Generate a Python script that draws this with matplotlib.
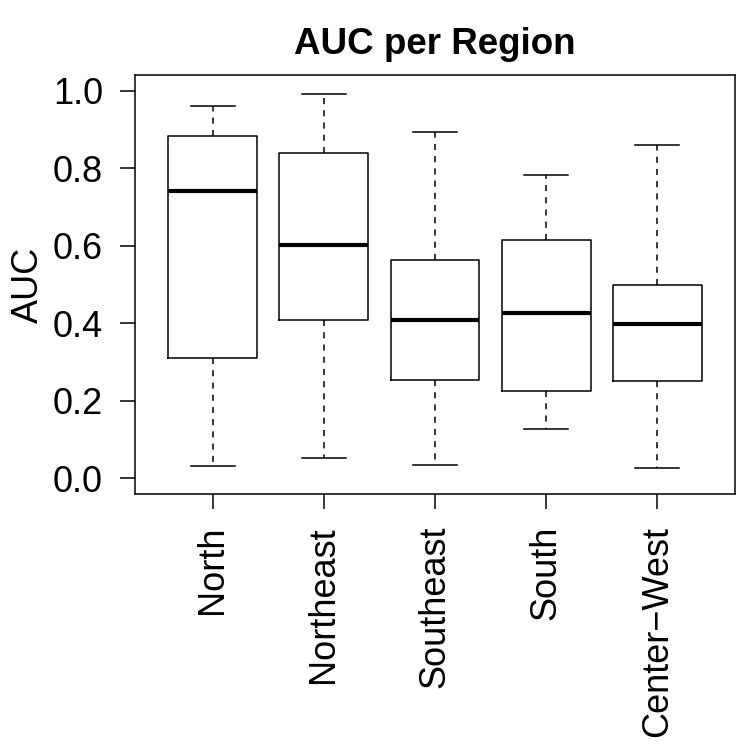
import matplotlib
matplotlib.use("Agg")
import matplotlib.pyplot as plt

plt.rcParams['font.family'] = ['Liberation Sans', 'DejaVu Sans']

regions = ["North", "Northeast", "Southeast", "South", "Center\u2212West"]
whislo = [0.033, 0.052, 0.034, 0.127, 0.026]
q1 = [0.311, 0.408, 0.255, 0.225, 0.252]
med = [0.741, 0.602, 0.409, 0.426, 0.399]
q3 = [0.884, 0.840, 0.563, 0.614, 0.500]
whishi = [0.961, 0.990, 0.892, 0.781, 0.859]

stats = []
for i, name in enumerate(regions):
    stats.append(dict(label=name, whislo=whislo[i], q1=q1[i], med=med[i],
                      q3=q3[i], whishi=whishi[i], fliers=[]))

fig = plt.figure(figsize=(7.5, 7.5), dpi=100)
ax = fig.add_axes([135 / 750, 1 - 494 / 750, 600 / 750, 419 / 750])

lw = 1.1
ax.bxp(stats, positions=range(1, len(regions) + 1), widths=0.8, capwidths=0.4,
       showfliers=False,
       boxprops=dict(color='black', linewidth=lw),
       medianprops=dict(color='black', linewidth=3.0, solid_capstyle='butt'),
       whiskerprops=dict(color='black', linewidth=lw, linestyle=(0, (4, 4))),
       capprops=dict(color='black', linewidth=lw))

ax.set_xlim(0.3, 5.7)
ax.set_ylim(-0.04, 1.04)
ax.set_yticks([0.0, 0.2, 0.4, 0.6, 0.8, 1.0])
ax.set_yticklabels(["0.0", "0.2", "0.4", "0.6", "0.8", "1.0"])
ax.set_xticks(range(1, len(regions) + 1))
ax.set_xticklabels(regions, rotation=90, va='top', ha='center')

ax.tick_params(axis='both', labelsize=26, length=11, width=lw, pad=12,
               color='black')
for s in ax.spines.values():
    s.set_linewidth(lw)

ax.set_ylabel("AUC", fontsize=26, labelpad=5)
ax.set_title("AUC per Region", fontsize=26.5, fontweight='bold', pad=15)

fig.savefig("out.png", dpi=100)
